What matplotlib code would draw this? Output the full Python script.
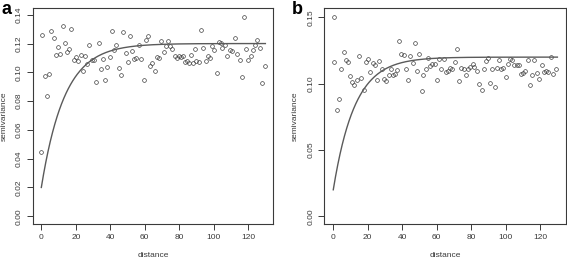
import numpy as np
import matplotlib
matplotlib.use("Agg")
import matplotlib.pyplot as plt

plt.rcParams['font.family'] = ['Liberation Sans', 'DejaVu Sans']

# Panel a: empirical semivariogram
dist_a = [0.0, 0.6, 1.9, 3.3, 4.6, 5.8, 7.1, 8.3, 9.7, 11.0, 12.4, 13.7, 14.9, 16.2, 17.4,
          18.7, 20.1, 21.4, 22.8, 24.0, 25.3, 26.7, 27.8, 29.2, 30.5, 31.9, 33.2, 34.4,
          35.7, 36.9, 38.3, 39.6, 40.9, 42.3, 43.5, 44.8, 46.2, 47.5, 48.9, 50.2, 51.4,
          52.6, 53.9, 55.1, 56.4, 58.0, 59.3, 60.5, 61.8, 63.0, 64.3, 65.7, 67.1, 68.4,
          69.6, 71.0, 72.3, 73.6, 74.8, 76.1, 77.3, 78.5, 79.8, 81.0, 82.3, 83.5, 84.6,
          85.8, 87.0, 87.9, 89.1, 90.0, 91.2, 92.9, 94.1, 95.3, 96.6, 97.8, 99.1, 100.3,
          101.8, 103.0, 104.2, 105.1, 106.7, 108.0, 109.4, 110.5, 112.5, 113.8, 115.0,
          116.3, 117.7, 119.0, 120.2, 121.5, 122.7, 123.9, 125.2, 126.8, 128.3, 129.5]
semi_a = [0.0449, 0.1260, 0.0972, 0.0835, 0.0986, 0.1288, 0.1240, 0.1123, 0.1179, 0.1128,
          0.1321, 0.1205, 0.1144, 0.1160, 0.1302, 0.1088, 0.1109, 0.1077, 0.1121, 0.1007,
          0.1114, 0.1056, 0.1191, 0.1084, 0.1084, 0.0930, 0.1207, 0.1021, 0.1093, 0.0944,
          0.1035, 0.1109, 0.1286, 0.1156, 0.1188, 0.1030, 0.0984, 0.1277, 0.1135, 0.1070,
          0.1251, 0.1147, 0.1093, 0.1102, 0.1188, 0.1095, 0.0949, 0.1228, 0.1249, 0.1047,
          0.1067, 0.1007, 0.1105, 0.1098, 0.1216, 0.1142, 0.1186, 0.1216, 0.1181, 0.1160,
          0.1114, 0.1098, 0.1114, 0.1107, 0.1116, 0.1070, 0.1077, 0.1063, 0.1121, 0.1067,
          0.1160, 0.1077, 0.1070, 0.1295, 0.1172, 0.1081, 0.1116, 0.1102, 0.1184, 0.1158,
          0.0995, 0.1214, 0.1207, 0.1167, 0.1193, 0.1116, 0.1158, 0.1149, 0.1242, 0.1130,
          0.1084, 0.0967, 0.1386, 0.1163, 0.1086, 0.1114, 0.1158, 0.1191, 0.1228, 0.1167,
          0.0928, 0.1044]

# Panel b: empirical semivariogram
dist_b = [0.6, 0.2, 1.9, 3.3, 4.6, 6.0, 7.3, 8.7, 9.6, 10.8, 12.3, 13.7, 15.0, 16.3, 17.7,
          19.0, 20.4, 21.5, 22.9, 24.2, 25.4, 26.5, 28.1, 29.4, 30.8, 32.1, 33.3, 34.4,
          35.8, 37.1, 38.1, 39.4, 40.8, 42.1, 43.5, 44.6, 46.0, 47.3, 48.7, 49.8, 51.2,
          52.3, 53.7, 55.0, 56.3, 57.5, 58.8, 60.2, 61.3, 62.7, 64.0, 65.2, 66.5, 67.9,
          69.0, 70.4, 71.7, 73.1, 74.2, 75.6, 76.9, 78.3, 79.4, 80.8, 81.9, 83.3, 84.6,
          86.0, 87.3, 88.5, 89.8, 91.2, 92.3, 93.7, 94.8, 96.2, 97.3, 98.7, 100.0, 101.2,
          102.5, 103.8, 105.0, 106.3, 107.7, 108.8, 110.2, 111.5, 112.9, 114.0, 115.4,
          116.7, 118.1, 119.4, 120.8, 122.1, 123.3, 124.8, 126.2, 127.5, 129.0]
semi_b = [0.1505, 0.1160, 0.0805, 0.0888, 0.1110, 0.1235, 0.1180, 0.1160, 0.1060, 0.1013,
          0.0988, 0.1030, 0.1205, 0.1043, 0.0955, 0.1165, 0.1185, 0.1085, 0.1153, 0.1140,
          0.1025, 0.1173, 0.1108, 0.1038, 0.1018, 0.1063, 0.1108, 0.1065, 0.1073, 0.1105,
          0.1320, 0.1225, 0.1218, 0.1113, 0.1030, 0.1210, 0.1153, 0.1303, 0.1098, 0.1220,
          0.0948, 0.1068, 0.1113, 0.1193, 0.1135, 0.1145, 0.1148, 0.1025, 0.1188, 0.1113,
          0.1188, 0.1088, 0.1098, 0.1120, 0.1113, 0.1160, 0.1260, 0.1023, 0.1115, 0.1110,
          0.1065, 0.1113, 0.1128, 0.1150, 0.1123, 0.1095, 0.0995, 0.0953, 0.1110, 0.1170,
          0.1193, 0.1005, 0.1110, 0.0973, 0.1115, 0.1180, 0.1108, 0.1118, 0.1053, 0.1150,
          0.1188, 0.1180, 0.1140, 0.1140, 0.1140, 0.1075, 0.1083, 0.1098, 0.1178, 0.0988,
          0.1063, 0.1178, 0.1078, 0.1035, 0.1140, 0.1085, 0.1095, 0.1088, 0.1203, 0.1075,
          0.1110]

# Fitted exponential variogram models: (nugget, sill, range)
model_a = (0.020, 0.1200, 13.5)
model_b = (0.020, 0.1200, 12.5)

xticks = [0, 20, 40, 60, 80, 100, 120]
yticks_a = [0.00, 0.02, 0.04, 0.06, 0.08, 0.10, 0.12, 0.14]
yticks_b = [0.00, 0.05, 0.10, 0.15]

W, H = 567, 258
fig = plt.figure(figsize=(W / 100, H / 100), dpi=100)

INK = '#3a3a3a'


def panel(rect, d, s, model, yticks, yfmt, xlim, ylim, letter, letter_x):
    ax = fig.add_axes(rect)
    ax.plot(d, s, linestyle='none', marker='o', markersize=2.7,
            markerfacecolor='none', markeredgecolor='#404040', markeredgewidth=0.5)
    nug, sill, rng = model
    h = np.linspace(0, 130, 300)
    ax.plot(h, nug + (sill - nug) * (1 - np.exp(-h / rng)), color='#5a5a5a', lw=1.0)
    ax.set_xlim(*xlim)
    ax.set_ylim(*ylim)
    ax.set_xticks(xticks)
    ax.set_yticks(yticks)
    ax.set_xticklabels([str(t) for t in xticks], fontsize=6, color=INK)
    ax.set_yticklabels([yfmt.format(t) for t in yticks], fontsize=6, color=INK,
                       rotation=90, va='center')
    ax.tick_params(direction='out', length=4, width=0.7, color=INK, pad=3)
    for sp in ax.spines.values():
        sp.set_color(INK)
        sp.set_linewidth(0.8)
    ax.set_xlabel('distance', fontsize=6, color=INK, labelpad=8)
    ax.set_ylabel('semivariance', fontsize=6, color=INK, labelpad=6)
    fig.text(letter_x / W, 1 - 1.5 / H, letter, fontsize=13, fontweight='bold',
             ha='left', va='top')
    return ax


panel([32.7 / W, 34 / H, (273.3 - 32.7) / W, (224 - 8) / H], dist_a, semi_a, model_a,
      yticks_a, '{:.2f}', (-5.0, 134.6), (-0.0054, 0.1447), 'a', 1.5)
panel([324.3 / W, 34 / H, (566 - 324.3) / W, (224 - 8.3) / H], dist_b, semi_b, model_b,
      yticks_b, '{:.2f}', (-5.2, 135.0), (-0.0058, 0.1568), 'b', 291.5)

fig.savefig('out.png', dpi=100)
